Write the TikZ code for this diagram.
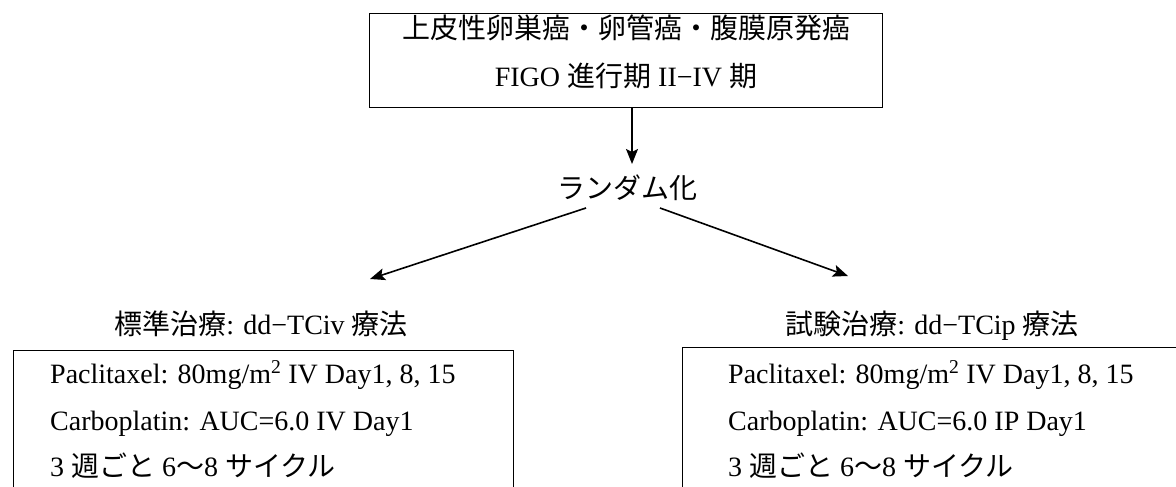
\documentclass[tikz,border=0pt]{standalone}
\usepackage{fontspec}
\setmainfont{Liberation Serif}
\newfontfamily\cjk{Noto Sans CJK JP}
\newcommand{\jp}[1]{{\cjk #1}}
\usetikzlibrary{arrows.meta}
\begin{document}
\begin{tikzpicture}[x=1pt,y=-1pt,
  frame/.style={draw=black, line width=1.2pt, inner sep=0pt, anchor=north west},
  txt/.style={inner sep=0pt, font=\fontsize{28}{34}\selectfont},
  arr/.style={line width=1.6pt, -{Stealth[length=15pt,width=12pt,inset=3pt]}}]
\clip (0,0) rectangle (1176,487);
\useasboundingbox (0,0) rectangle (1176,487);
% top box
\node[frame, minimum width=513pt, minimum height=94pt] (topbox) at (369,13) {};
\node[txt, anchor=base] (t1) at (626,39) {\jp{上皮性卵巣癌・卵管癌・腹膜原発癌}};
\node[txt, anchor=base] (t2) at (626,86) {FIGO \jp{進行期} II−IV \jp{期}};
% randomisation
\node[txt, anchor=base] (rand) at (627,198) {\jp{ランダム化}};
\coordinate (dtip) at (632,164);
\draw[arr] (topbox.south -| dtip) -- (dtip);
\coordinate (ls) at (586,208);
\coordinate (lt) at (370,279);
\coordinate (rs) at (660,208);
\coordinate (rt) at (848,276);
\draw[arr] (ls) -- (lt);
\draw[arr] (rs) -- (rt);
% headings
\node[txt, anchor=base] (hl) at (261,334) {\jp{標準治療}: dd−TCiv \jp{療法}};
\node[txt, anchor=base] (hr) at (932,334) {\jp{試験治療}: dd−TCip \jp{療法}};
% bottom boxes
\node[frame, minimum width=500pt, minimum height=200pt] (lbox) at (13,350) {};
\node[frame, minimum width=500pt, minimum height=200pt] (rbox) at (682,347) {};
\node[txt, anchor=base west] (l1) at (50,383) {Paclitaxel: 80mg/m\textsuperscript{2} IV Day1, 8, 15};
\node[txt, anchor=base west] (l2) at (50,430) {Carboplatin: AUC=6.0 IV Day1};
\node[txt, anchor=base west] (l3) at (50,476) {3 \jp{週ごと} 6\jp{〜}8 \jp{サイクル}};
\node[txt, anchor=base west] (r1) at (728,383) {Paclitaxel: 80mg/m\textsuperscript{2} IV Day1, 8, 15};
\node[txt, anchor=base west] (r2) at (728,430) {Carboplatin: AUC=6.0 IP Day1};
\node[txt, anchor=base west] (r3) at (728,476) {3 \jp{週ごと} 6\jp{〜}8 \jp{サイクル}};
\end{tikzpicture}
\end{document}
